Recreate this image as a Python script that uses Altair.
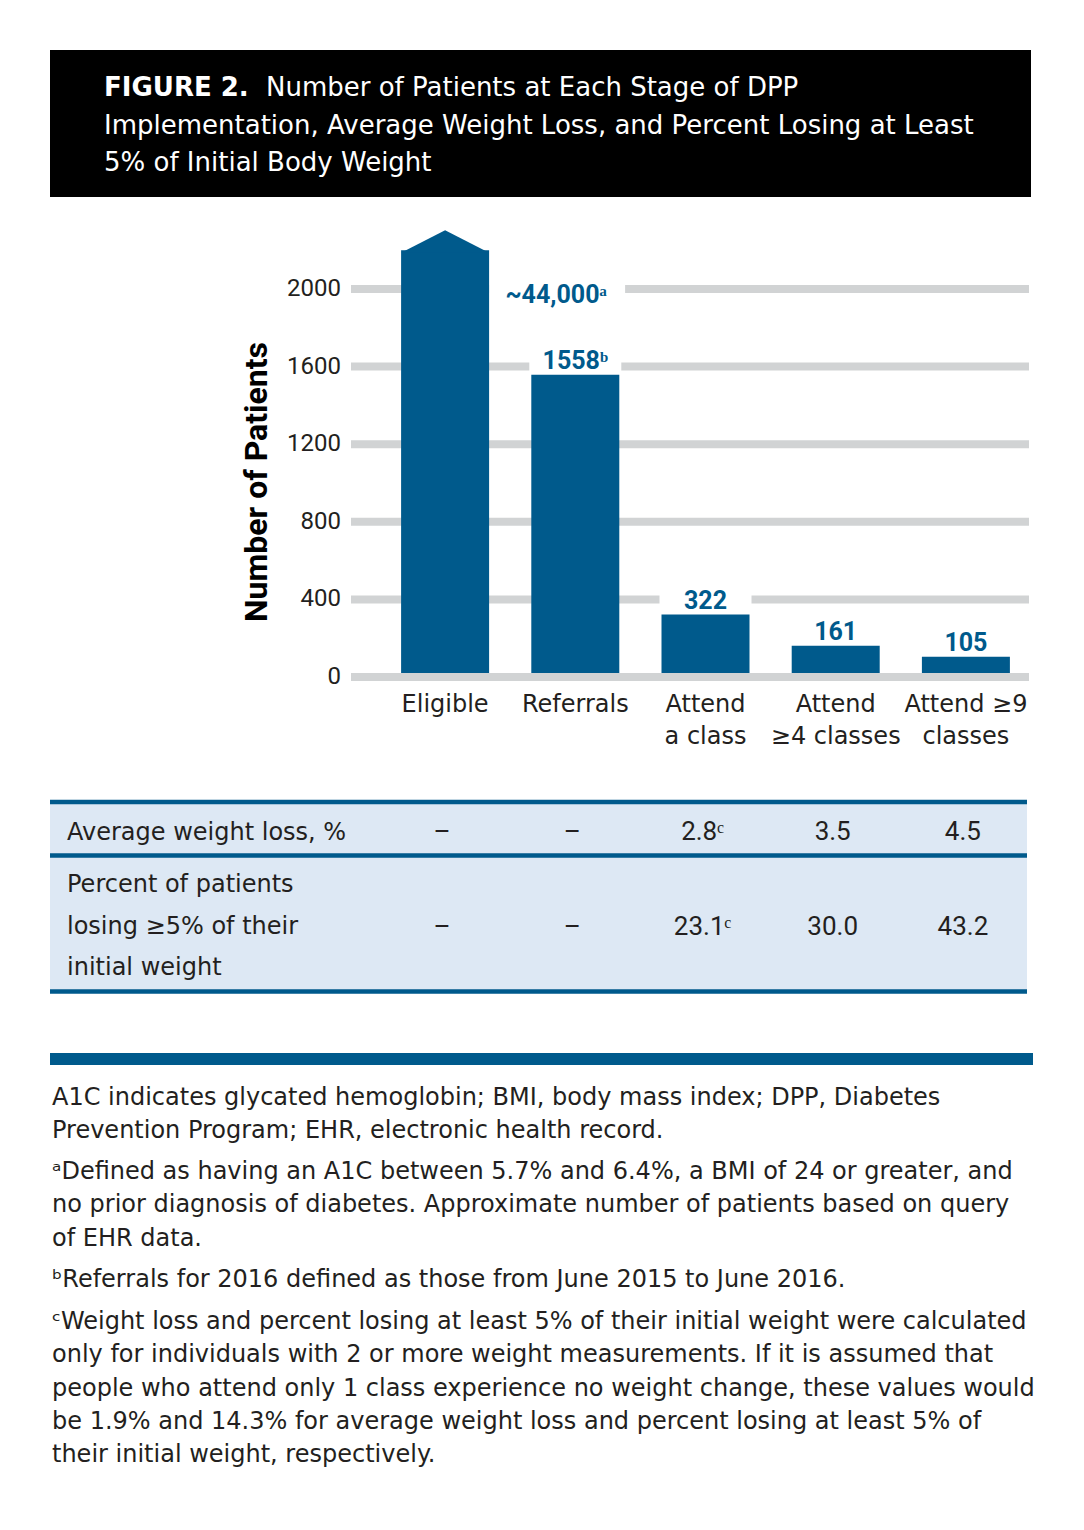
import altair as alt
import pandas as pd

# ---------------- data ----------------
categories = ["Eligible", "Referrals", "Attend\na class", "Attend\n≥4 classes", "Attend ≥9\nclasses"]
patients = [44000, 1558, 322, 161, 105]
bar_labels = ["~44,000ᵃ", "1558ᵇ", "322", "161", "105"]
y_ticks = [0, 400, 800, 1200, 1600, 2000]
axis_break = 2200  # the off-scale Eligible bar is cut here
avg_weight_loss = ["–", "–", "2.8ᶜ", "3.5", "4.5"]
pct_losing_5 = ["–", "–", "23.1ᶜ", "30.0", "43.2"]
row_label_1 = "Average weight loss, %"
row_label_2 = ["Percent of patients", "losing ≥5% of their", "initial weight"]
title_lead = "FIGURE 2."
title_lines = [
    "Number of Patients at Each Stage of DPP",
    "Implementation, Average Weight Loss, and Percent Losing at Least",
    "5% of Initial Body Weight",
]
y_title = "Number of Patients"
footnotes = [
    ["A1C indicates glycated hemoglobin; BMI, body mass index; DPP, Diabetes",
     "Prevention Program; EHR, electronic health record."],
    ["ᵃDefined as having an A1C between 5.7% and 6.4%, a BMI of 24 or greater, and",
     "no prior diagnosis of diabetes. Approximate number of patients based on query",
     "of EHR data."],
    ["ᵇReferrals for 2016 defined as those from June 2015 to June 2016."],
    ["ᶜWeight loss and percent losing at least 5% of their initial weight were calculated",
     "only for individuals with 2 or more weight measurements. If it is assumed that",
     "people who attend only 1 class experience no weight change, these values would",
     "be 1.9% and 14.3% for average weight loss and percent losing at least 5% of",
     "their initial weight, respectively."],
]

# ---------------- styles ----------------
FONT = "Roboto"
WIDE = "DejaVu Sans"
BLUE = "#005a8c"
GRID = "#d1d3d4"
TXT = "#231f20"
TABLE_BG = "#dde8f4"

df = pd.DataFrame({
    "stage": categories,
    "patients": patients,
    "label": bar_labels,
    "avg": avg_weight_loss,
    "pct": pct_losing_5,
})
ticks_df = pd.DataFrame({"tick": y_ticks})


def txt(s):
    return pd.DataFrame({"t": [s]})


xscale = alt.Scale(domain=categories, range=[372, 1023], paddingInner=0, paddingOuter=0)
yscale = alt.Scale(domain=[0, 2000], range=[669, 281], nice=False)
X = alt.X("stage:N", scale=xscale, axis=None)

base = alt.Chart(df).transform_calculate(
    shown=f"min(datum.patients, {axis_break})"
)

grid = alt.Chart(ticks_df).mark_rule(color=GRID, strokeWidth=8).encode(
    y=alt.Y("tick:Q", scale=yscale, axis=None),
    x=alt.value(343), x2=alt.value(1021),
)

# white masks that interrupt gridlines behind the value labels
mask_big = base.transform_filter(f"datum.patients > {y_ticks[-1]}").transform_calculate(
    lo=f"{y_ticks[-1]} - 60", hi=f"{y_ticks[-1]} + 60"
).mark_bar(color="white", width=136, xOffset=112).encode(
    x=X, y=alt.Y("lo:Q", scale=yscale, axis=None), y2="hi:Q"
)
mask_small = base.transform_filter(f"datum.patients <= {y_ticks[-1]}").transform_calculate(
    hi="datum.patients + 120"
).mark_bar(color="white", width=92).encode(
    x=X, y=alt.Y("patients:Q", scale=yscale, axis=None), y2="hi:Q"
)

bars = base.mark_bar(color=BLUE, width=88).encode(
    x=X, y=alt.Y("shown:Q", scale=yscale, axis=None)
)

arrow = base.transform_filter(f"datum.patients > {y_ticks[-1]}").mark_point(
    shape="M -1 0.06 L 0 -0.455 L 1 0.06 Z", size=7744, filled=True, color=BLUE,
    opacity=1, strokeWidth=0
).encode(x=X, y=alt.Y("shown:Q", scale=yscale, axis=None))

zero_line = alt.Chart(ticks_df).transform_filter("datum.tick == 0").mark_rule(
    color=GRID, strokeWidth=8
).encode(
    y=alt.Y("tick:Q", scale=yscale, axis=None),
    x=alt.value(343), x2=alt.value(1021),
)

label_big = base.transform_filter(f"datum.patients > {y_ticks[-1]}").transform_calculate(
    top=f"{y_ticks[-1]}"
).mark_text(font=FONT, fontSize=25, fontWeight="bold", color=BLUE, dx=111, dy=14,
            baseline="alphabetic", align="center").encode(
    x=X, y=alt.Y("top:Q", scale=yscale, axis=None), text="label:N"
)
label_small = base.transform_filter(f"datum.patients <= {y_ticks[-1]}").mark_text(
    font=FONT, fontSize=25, fontWeight="bold", color=BLUE, dy=-6,
    baseline="alphabetic", align="center"
).encode(x=X, y=alt.Y("patients:Q", scale=yscale, axis=None), text="label:N")

tick_labels = alt.Chart(ticks_df).mark_text(
    font=FONT, fontSize=24, color=TXT, align="right", baseline="middle"
).encode(
    y=alt.Y("tick:Q", scale=yscale, axis=None), x=alt.value(333),
    text=alt.Text("tick:Q", format="d"),
)

cat_labels = base.mark_text(
    font=WIDE, fontSize=24, color=TXT, align="center", baseline="alphabetic",
    lineBreak="\n", lineHeight=32
).encode(x=X, y=alt.value(704), text="stage:N")

tab_row1 = base.mark_text(font=FONT, fontSize=26, color=TXT, align="center",
                          baseline="alphabetic", dx=-3).encode(
    x=X, y=alt.value(832), text="avg:N")
tab_row2 = base.mark_text(font=FONT, fontSize=26, color=TXT, align="center",
                          baseline="alphabetic", dx=-3).encode(
    x=X, y=alt.value(927), text="pct:N")

plot = alt.layer(grid, mask_big, mask_small, bars, arrow, zero_line,
                 label_big, label_small, tick_labels, cat_labels, tab_row1, tab_row2)

# ---------------- decorations ----------------
one = pd.DataFrame({"k": [1]})

title_box = alt.Chart(one).mark_rect(color="black").encode(
    x=alt.value(42), x2=alt.value(1023), y=alt.value(42), y2=alt.value(189))
t_lead = alt.Chart(txt(title_lead)).mark_text(
    font=WIDE, fontSize=26, fontWeight="bold", color="white", align="left", baseline="alphabetic"
).encode(x=alt.value(96), y=alt.value(88), text="t:N")
t_l1 = alt.Chart(txt(title_lines[0])).mark_text(
    font=WIDE, fontSize=26, color="white", align="left", baseline="alphabetic"
).encode(x=alt.value(258), y=alt.value(88), text="t:N")
t_l23 = alt.Chart(txt("\n".join(title_lines[1:]))).mark_text(
    font=WIDE, fontSize=26, color="white", align="left", baseline="alphabetic",
    lineBreak="\n", lineHeight=37.5
).encode(x=alt.value(96), y=alt.value(125.5), text="t:N")

axis_title = alt.Chart(txt(y_title)).mark_text(
    font=FONT, fontSize=32, fontWeight="bold", color="black", angle=270,
    align="center", baseline="middle"
).encode(x=alt.value(249), y=alt.value(474), text="t:N")

table_bg = alt.Chart(one).mark_rect(color=TABLE_BG).encode(
    x=alt.value(42), x2=alt.value(1019), y=alt.value(794), y2=alt.value(984))
table_lines = [
    alt.Chart(one).mark_rule(color=BLUE, strokeWidth=4.5).encode(
        x=alt.value(42), x2=alt.value(1019), y=alt.value(yy))
    for yy in (794, 847.5, 983.5)
]
row1_lbl = alt.Chart(txt(row_label_1)).mark_text(
    font=WIDE, fontSize=24, color=TXT, align="left", baseline="alphabetic"
).encode(x=alt.value(59), y=alt.value(832), text="t:N")
row2_lbl = alt.Chart(txt("\n".join(row_label_2))).mark_text(
    font=WIDE, fontSize=24, color=TXT, align="left", baseline="alphabetic",
    lineBreak="\n", lineHeight=41.5
).encode(x=alt.value(59), y=alt.value(884), text="t:N")

footer_bar = alt.Chart(one).mark_rect(color=BLUE).encode(
    x=alt.value(42), x2=alt.value(1025), y=alt.value(1045), y2=alt.value(1057))

fn_tops = [1097, 1171, 1279, 1321]
fn_layers = [
    alt.Chart(txt("\n".join(lines))).mark_text(
        font=WIDE, fontSize=24, color=TXT, align="left", baseline="alphabetic",
        lineBreak="\n", lineHeight=33.3
    ).encode(x=alt.value(44), y=alt.value(top), text="t:N")
    for lines, top in zip(footnotes, fn_tops)
]

chart = alt.layer(
    title_box, t_lead, t_l1, t_l23, axis_title,
    table_bg, *table_lines, row1_lbl, row2_lbl,
    plot,
    footer_bar, *fn_layers,
).properties(
    width=1068, height=1514, padding=0,
    autosize=alt.AutoSizeParams(type="none"),
).configure(font=FONT, view=alt.ViewConfig(stroke=None))

chart.save("out.html", embed_options={"renderer": "svg", "actions": False})
